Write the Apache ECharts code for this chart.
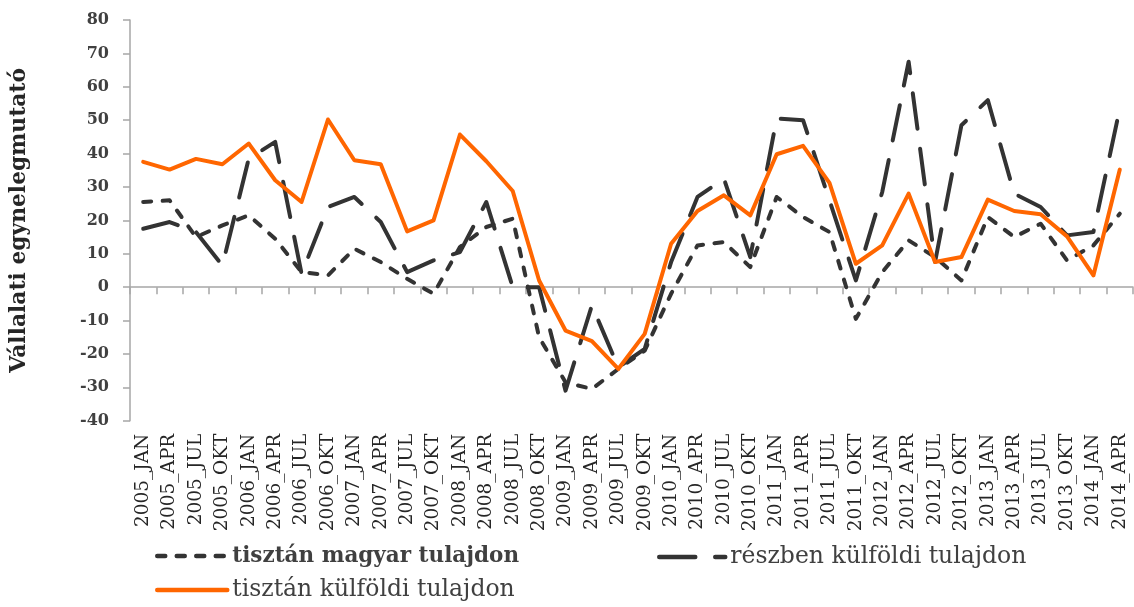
<!DOCTYPE html>
<html>
<head>
<meta charset="utf-8">
<script src="https://cdn.jsdelivr.net/npm/echarts@6/dist/echarts.min.js"></script>
<style>
html,body{margin:0;padding:0;background:#ffffff;}
#chart{width:1134px;height:607px;}
</style>
</head>
<body>
<div id="chart"></div>
<script>
// ---- data ----
const categories = [
  '2005_JAN','2005_APR','2005_JUL','2005_OKT',
  '2006_JAN','2006_APR','2006_JUL','2006_OKT',
  '2007_JAN','2007_APR','2007_JUL','2007_OKT',
  '2008_JAN','2008_APR','2008_JUL','2008_OKT',
  '2009_JAN','2009_APR','2009_JUL','2009_OKT',
  '2010_JAN','2010_APR','2010_JUL','2010_OKT',
  '2011_JAN','2011_APR','2011_JUL','2011_OKT',
  '2012_JAN','2012_APR','2012_JUL','2012_OKT',
  '2013_JAN','2013_APR','2013_JUL','2013_OKT',
  '2014_JAN','2014_APR'
];
const tisztanMagyar = [25.5, 26, 15, 18.5, 21.5, 14.5, 4.5, 3.5, 11.5, 7.5, 2.5, -2, 12, 18, 20.5, -15, -28.5, -30.5, -24.5, -19, -2, 12.5, 13.5, 6, 27, 21, 16.5, -9.5, 4.5, 14, 9, 2, 21, 15, 19, 8, 12.5, 22];
const reszbenKulfoldi = [17.5, 19.5, 16.5, 6.5, 38.5, 43.5, 4, 24, 27, 19.5, 4.5, 8, 10.5, 25.5, 0, 0, -31, -5.5, -24, -18.5, 7.5, 27, 32.5, 9, 50.5, 50, 26, 2, 28.5, 67.5, 7.5, 48.5, 56, 28, 24, 15.5, 16.5, 53.5];
const tisztanKulfoldi = [37.5, 35.2, 38.4, 36.8, 43, 32, 25.5, 50.2, 38, 36.8, 16.7, 20, 45.7, 37.7, 28.8, 2, -13, -16.2, -24.5, -14, 13, 22.8, 27.5, 21.5, 39.8, 42.3, 31.2, 7, 12.5, 28, 7.5, 9, 26.2, 22.8, 21.8, 15.2, 3.5, 35.2];
const seriesNames = ['tisztán magyar tulajdon', 'részben külföldi tulajdon', 'tisztán külföldi tulajdon'];
const yAxisTitle = 'Vállalati egynelegmutató';
const yMin = -40, yMax = 80, yStep = 10;

// ---- chart ----
const SERIF = '"DejaVu Serif", "Liberation Serif", serif';
const DARK = '#333333';
const ORANGE = '#FF6600';
const AXIS_GRAY = '#A6A6A6';
const HIDDEN_SYMBOL = {color: 'rgba(0,0,0,0)', borderColor: 'rgba(0,0,0,0)', borderWidth: 0};
const LEGEND_LINE = {width: 4.5, cap: 'round'};

const chart = echarts.init(document.getElementById('chart'), null, {renderer: 'canvas'});

const option = {
  backgroundColor: '#ffffff',
  animation: false,
  grid: {left: 127, right: 1, top: 20, bottom: 186.3, containLabel: false},
  xAxis: [
    {
      type: 'category',
      data: categories,
      position: 'bottom',
      boundaryGap: true,
      axisLine: {show: false, onZero: false},
      axisTick: {show: false},
      splitLine: {show: false},
      axisLabel: {
        rotate: 90, interval: 0, margin: 13,
        fontFamily: SERIF, fontSize: 18.5, color: '#262626'
      }
    },
    {
      type: 'category',
      data: categories,
      position: 'top',
      boundaryGap: true,
      axisLine: {show: true, onZero: true, lineStyle: {color: AXIS_GRAY, width: 1.5}},
      axisTick: {show: true, inside: true, length: 7, interval: 0, lineStyle: {color: AXIS_GRAY, width: 1.5}},
      axisLabel: {show: false},
      splitLine: {show: false}
    }
  ],
  yAxis: {
    type: 'value',
    min: yMin, max: yMax, interval: yStep,
    name: yAxisTitle,
    nameLocation: 'middle',
    nameRotate: 90,
    nameGap: 100,
    nameTextStyle: {fontFamily: SERIF, fontSize: 21.8, fontWeight: 'bold', color: '#262626'},
    axisLine: {show: true, onZero: false, lineStyle: {color: AXIS_GRAY, width: 1.5}},
    axisTick: {show: true, length: 7, lineStyle: {color: AXIS_GRAY, width: 1.5}},
    splitLine: {show: false},
    axisLabel: {
      margin: 21,
      fontFamily: SERIF, fontSize: 16, fontWeight: 'bold', color: '#404040'
    }
  },
  legend: [
    {
      data: [seriesNames[0]], left: 155, top: 545, padding: 0,
      itemWidth: 70, itemHeight: 14, itemStyle: HIDDEN_SYMBOL, lineStyle: LEGEND_LINE,
      textStyle: {fontFamily: SERIF, fontSize: 21.5, fontWeight: 'bold', color: '#404040'}
    },
    {
      data: [seriesNames[1]], left: 657, top: 545, padding: 0,
      itemWidth: 66, itemHeight: 14, itemStyle: HIDDEN_SYMBOL, lineStyle: LEGEND_LINE,
      textStyle: {fontFamily: SERIF, fontSize: 23.5, color: '#404040'}
    },
    {
      data: [seriesNames[2]], left: 155, top: 578, padding: 0,
      itemWidth: 70, itemHeight: 14, itemStyle: HIDDEN_SYMBOL, lineStyle: LEGEND_LINE,
      textStyle: {fontFamily: SERIF, fontSize: 23.5, color: '#404040'}
    }
  ],
  series: [
    {
      name: seriesNames[0], type: 'line', data: tisztanMagyar,
      xAxisIndex: 0, yAxisIndex: 0,
      symbol: 'none', showSymbol: false, z: 2,
      lineStyle: {color: DARK, width: 4, type: [8, 11.5], cap: 'round', join: 'round'},
      itemStyle: {color: DARK}
    },
    {
      name: seriesNames[1], type: 'line', data: reszbenKulfoldi,
      xAxisIndex: 0, yAxisIndex: 0,
      symbol: 'none', showSymbol: false, z: 3,
      lineStyle: {color: DARK, width: 4, type: [36, 20], cap: 'round', join: 'round'},
      itemStyle: {color: DARK}
    },
    {
      name: seriesNames[2], type: 'line', data: tisztanKulfoldi,
      xAxisIndex: 0, yAxisIndex: 0,
      symbol: 'none', showSymbol: false, z: 4,
      lineStyle: {color: ORANGE, width: 4, cap: 'round', join: 'round'},
      itemStyle: {color: ORANGE}
    }
  ]
};
chart.setOption(option);
</script>
</body>
</html>
